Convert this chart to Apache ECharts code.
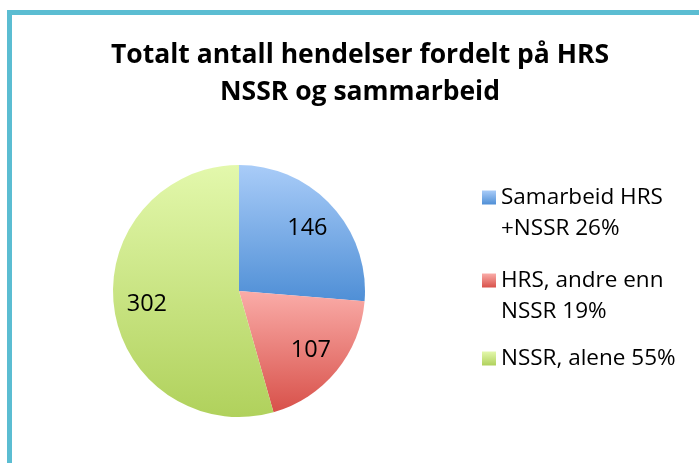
<!DOCTYPE html>
<html>
<head>
<meta charset="utf-8">
<script src="https://cdn.jsdelivr.net/npm/echarts@6/dist/echarts.min.js"></script>
<style>
    html, body { margin: 0; padding: 0; background: #fff; }
    #frame {
        position: absolute; left: 7px; top: 10px; width: 692px; height: 453px;
        border-left: 5px solid #5bbdd2; border-top: 5px solid #5bbdd2;
        box-sizing: border-box;
    }
    #main { position: absolute; left: 0; top: 0; width: 699px; height: 463px; }
</style>
</head>
<body>
<div id="frame"></div>
<div id="main"></div>
<script>
    // 数据
    var categories = ['Samarbeid HRS +NSSR', 'HRS, andre enn NSSR', 'NSSR, alene'];
    var values = [146, 107, 302];
    var legendLabels = ['\nSamarbeid HRS\n+NSSR 26%', '\nHRS, andre enn\nNSSR 19%', 'NSSR, alene 55%'];
    var topColors = ['#a9ccf8', '#faaca8', '#e3f8ac'];
    var bottomColors = ['#4f8fd6', '#d8514a', '#b0d15c'];

    var fontName = '"Open Sans", Lato, sans-serif';

    var pieData = [];
    var labelData = [];
    for (var i = 0; i < categories.length; i++) {
        pieData.push({
            name: categories[i],
            value: values[i],
            itemStyle: {
                color: new echarts.graphic.LinearGradient(0, 0, 0, 1, [
                    {offset: 0, color: topColors[i]},
                    {offset: 1, color: bottomColors[i]}
                ])
            }
        });
        labelData.push({name: categories[i], value: values[i]});
    }

    // 图例位置
    var legendTops = [151, 234, 343];
    var legends = [];
    for (var j = 0; j < categories.length; j++) {
        legends.push({
            data: [categories[j]],
            left: 482,
            top: legendTops[j],
            padding: 0,
            orient: 'vertical',
            icon: 'rect',
            itemWidth: 14,
            itemHeight: 14,
            itemGap: 0,
            selectedMode: false,
            formatter: (function(k) { return function() { return legendLabels[k]; }; })(j),
            textStyle: {
                fontFamily: fontName,
                fontSize: 22.5,
                lineHeight: 31,
                color: '#000'
            }
        });
    }

    var chart = echarts.init(document.getElementById('main'));
    chart.setOption({
        animation: false,
        title: {
            text: 'Totalt antall hendelser fordelt på HRS\nNSSR og sammarbeid',
            left: 355,
            top: 32,
            textAlign: 'center',
            textStyle: {
                fontFamily: fontName,
                fontWeight: 'bold',
                fontSize: 26.5,
                lineHeight: 37,
                color: '#000'
            }
        },
        legend: legends,
        series: [{
            type: 'pie',
            center: [239, 291],
            radius: [0, 126],
            startAngle: 90,
            clockwise: true,
            silent: true,
            label: {show: false},
            labelLine: {show: false},
            data: pieData
        }, {
            type: 'pie',
            center: [239, 291],
            radius: [54, 126],
            startAngle: 90,
            clockwise: true,
            silent: true,
            itemStyle: {color: 'rgba(0,0,0,0)'},
            label: {
                show: true,
                position: 'inside',
                formatter: '{c}',
                fontFamily: fontName,
                fontSize: 23.5,
                color: '#000'
            },
            labelLine: {show: false},
            data: labelData
        }]
    });
</script>
</body>
</html>
